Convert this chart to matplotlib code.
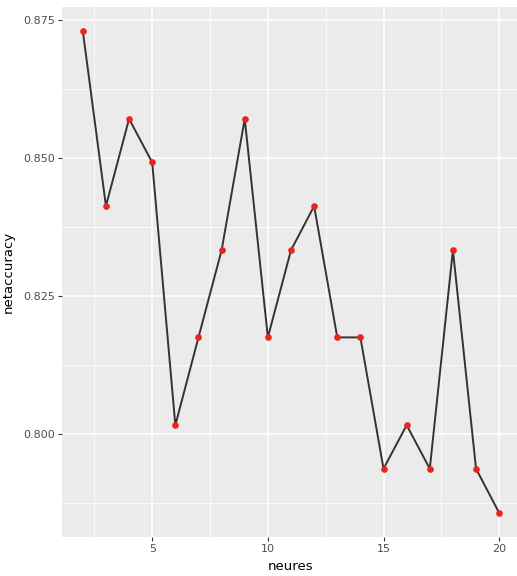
import numpy as np
import matplotlib
matplotlib.use("Agg")
import matplotlib.pyplot as plt
from matplotlib.ticker import MultipleLocator

neures = [2, 3, 4, 5, 6, 7, 8, 9, 10, 11, 12, 13, 14, 15, 16, 17, 18, 19, 20]
netaccuracy = [0.8730, 0.8413, 0.8571, 0.8492, 0.8016, 0.8175, 0.8333, 0.8571,
               0.8175, 0.8333, 0.8413, 0.8175, 0.8175, 0.7937, 0.8016, 0.7937,
               0.8333, 0.7937, 0.7857]

fig = plt.figure(figsize=(5.17, 5.76), dpi=100)
ax = fig.add_axes([62 / 517, 39 / 576, 458 / 517, 530 / 576])

ax.set_facecolor("#EBEBEB")
for s in ax.spines.values():
    s.set_visible(False)

ax.plot(neures, netaccuracy, color="#333333", lw=1.4, zorder=3)
ax.plot(neures, netaccuracy, "o", color="#E8251F", markersize=4.8,
        markeredgewidth=0, zorder=4)

# ggplot-like 5% expansion
xr = max(neures) - min(neures)
yr = max(netaccuracy) - min(netaccuracy)
ax.set_xlim(min(neures) - 0.05 * xr, max(neures) + 0.05 * xr)
ax.set_ylim(min(netaccuracy) - 0.05 * yr, max(netaccuracy) + 0.05 * yr)

ax.xaxis.set_major_locator(MultipleLocator(5))
ax.xaxis.set_minor_locator(MultipleLocator(2.5))
ax.yaxis.set_major_locator(MultipleLocator(0.025))
ax.yaxis.set_minor_locator(MultipleLocator(0.0125))
ax.yaxis.set_major_formatter(plt.FuncFormatter(lambda v, p: f"{v:.3f}"))

ax.grid(True, which="major", color="white", lw=1.1, zorder=0)
ax.grid(True, which="minor", color="white", lw=0.55, zorder=0)
ax.set_axisbelow(True)

ax.tick_params(which="major", length=3, width=0.8, color="#333333",
               labelcolor="#4D4D4D", labelsize=8, pad=2)
ax.tick_params(which="minor", length=0)

ax.set_xlabel("neures", fontsize=9.5, color="black", labelpad=4)
ax.set_ylabel("netaccuracy", fontsize=9.5, color="black", labelpad=6)

fig.savefig("out.png", dpi=100)
